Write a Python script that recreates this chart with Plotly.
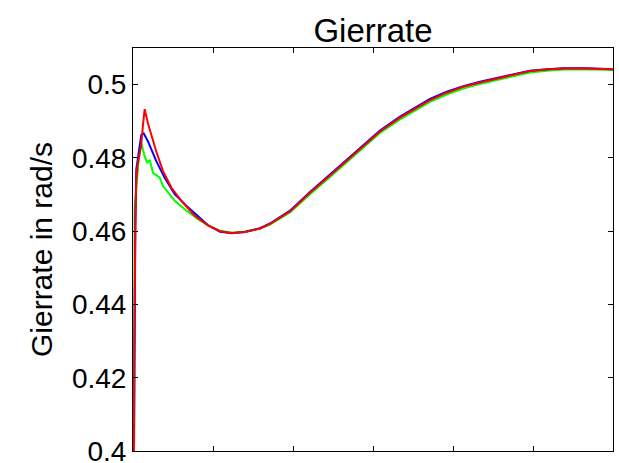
import plotly.graph_objects as go

# time axis (arbitrary units, 6 tick intervals, no labels shown)
x_common = [1.0875, 1.2375, 1.40, 1.5875, 1.7125, 1.9625, 2.2125, 2.4625, 2.7125, 2.9625, 3.0875, 3.3375,
            3.504, 3.7125, 3.921, 4.129, 4.3375, 4.546, 4.754, 4.9625, 5.171, 5.379, 5.671, 6.0]

x_red = [0.0125, 0.015, 0.029, 0.041, 0.056, 0.075, 0.10, 0.125, 0.146, 0.1875, 0.29, 0.375, 0.479, 0.604, 0.771, 0.938] + x_common
y_red = [0.400, 0.426, 0.460, 0.474, 0.478, 0.480, 0.483, 0.489, 0.4933, 0.4894, 0.4818, 0.4764, 0.4719, 0.4683, 0.4642, 0.4616,
         0.4600, 0.4595, 0.4598, 0.4607, 0.4620, 0.4654, 0.4705, 0.4752, 0.4801, 0.4850, 0.4872, 0.4910,
         0.4932, 0.4958, 0.4978, 0.4994, 0.5006, 0.5016, 0.5028, 0.5037, 0.5041, 0.5044, 0.5044, 0.5042]

x_blue = [0.0125, 0.016, 0.029, 0.041, 0.084, 0.104, 0.134, 0.1875, 0.291, 0.396, 0.521, 0.688, 0.938] + x_common
y_blue = [0.400, 0.430, 0.462, 0.4768, 0.4836, 0.4863, 0.4867, 0.4845, 0.4791, 0.4746, 0.4701, 0.4665, 0.4616,
          0.4598, 0.4594, 0.4598, 0.4608, 0.4621, 0.4656, 0.4707, 0.4755, 0.4804, 0.4853, 0.4875, 0.4913,
          0.4935, 0.4961, 0.4981, 0.4996, 0.5008, 0.5018, 0.5030, 0.5038, 0.5042, 0.5045, 0.5045, 0.5042]

x_green = [0.0125, 0.016, 0.021, 0.0625, 0.084, 0.104, 0.146, 0.179, 0.209, 0.25, 0.334, 0.375, 0.459, 0.521, 0.646, 0.8125, 0.938] + x_common
y_green = [0.400, 0.430, 0.4665, 0.4773, 0.4822, 0.4840, 0.4804, 0.4786, 0.4795, 0.4759, 0.4746, 0.4723, 0.4701, 0.4683, 0.4660, 0.4633, 0.4616,
           0.4601, 0.4596, 0.4599, 0.4607, 0.4618, 0.4651, 0.4701, 0.4748, 0.4797, 0.4846, 0.4868, 0.4905,
           0.4927, 0.4953, 0.4973, 0.4989, 0.5002, 0.5012, 0.5024, 0.5033, 0.5038, 0.5041, 0.5042, 0.5040]

y_ticks = [0.40, 0.42, 0.44, 0.46, 0.48, 0.50]
y_tick_labels = ["0.4", "0.42", "0.44", "0.46", "0.48", "0.5"]
x_ticks = [0, 1, 2, 3, 4, 5, 6]

fig = go.Figure()
for xs, ys, col in [(x_green, y_green, "#00ff00"), (x_blue, y_blue, "#0000ff"), (x_red, y_red, "#ff0000")]:
    fig.add_trace(go.Scatter(x=xs, y=ys, mode="lines", line=dict(color=col, width=2), showlegend=False))

fig.update_layout(
    width=619, height=463,
    margin=dict(l=133, r=6, t=48, b=12),
    paper_bgcolor="white", plot_bgcolor="white",
    font=dict(family="Liberation Sans, Arial, sans-serif", color="black"),
    title=dict(text="Gierrate", x=0.5, xref="paper", xanchor="center",
               y=1 - 30 / 463, yref="container", yanchor="middle",
               font=dict(size=33, color="black")),
)
fig.update_xaxes(range=[0, 6], tickvals=x_ticks, showticklabels=False, ticks="inside", ticklen=5,
                 tickcolor="black", showline=True, linecolor="black", linewidth=1, mirror="allticks",
                 showgrid=False, zeroline=False, automargin=False)
fig.update_yaxes(range=[0.39999, 0.51], tickvals=y_ticks, ticktext=y_tick_labels, ticks="inside", ticklen=5,
                 tickcolor="black", showline=True, linecolor="black", linewidth=1, mirror="allticks",
                 showgrid=False, zeroline=False, tickfont=dict(size=28), ticklabeloverflow="allow",
                 automargin=False,
                 title=dict(text="Gierrate in rad/s", font=dict(size=30), standoff=10))

fig.write_html("out.html")
